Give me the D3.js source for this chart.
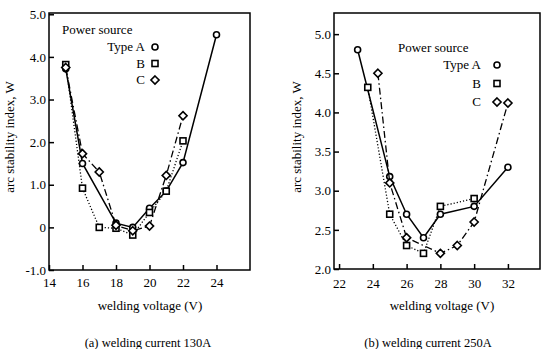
<!DOCTYPE html>
<html>
<head>
<meta charset="utf-8">
<script src="https://cdn.jsdelivr.net/npm/d3@7"></script>
<style>
  body { margin: 0; background: #fff; }
  svg { display: block; font-family: "Liberation Serif", "DejaVu Serif", serif; }
</style>
</head>
<body>
<svg id="chart" width="541" height="349"></svg>
<script>
// (a) welding current 130A
const voltsA130 = [15, 16, 18, 19, 20, 21, 22, 24];
const typeA130 = [3.72, 1.5, 0.1, 0.0, 0.45, 0.85, 1.52, 4.52];
const voltsB130 = [15, 16, 17, 18, 19, 20, 21, 22];
const typeB130 = [3.82, 0.92, 0.0, -0.02, -0.18, 0.35, 0.85, 2.03];
const voltsC130 = [15, 16, 17, 18, 19, 20, 21, 22];
const typeC130 = [3.75, 1.73, 1.3, 0.05, -0.08, 0.03, 1.22, 2.62];
const xTicks130 = [14, 16, 18, 20, 22, 24];
const yTicks130 = [-1, 0, 1, 2, 3, 4, 5];
const yLabels130 = ["-1.0", "0", "1.0", "2.0", "3.0", "4.0", "5.0"];

// (b) welding current 250A
const voltsA250 = [23.1, 25, 26, 27, 28, 30, 32];
const typeA250 = [4.8, 3.18, 2.7, 2.4, 2.7, 2.8, 3.3];
const voltsB250 = [23.7, 25, 26, 27, 28, 30];
const typeB250 = [4.32, 2.7, 2.3, 2.2, 2.8, 2.9];
const voltsC250 = [24.3, 25, 26, 28, 29, 30, 32];
const typeC250 = [4.5, 3.1, 2.4, 2.2, 2.3, 2.6, 4.12];
const xTicks250 = [22, 24, 26, 28, 30, 32];
const yTicks250 = [2, 2.5, 3, 3.5, 4, 4.5, 5];
const yLabels250 = ["2.0", "2.5", "3.0", "3.5", "4.0", "4.5", "5.0"];

const seriesNames = ["Type A", "B", "C"];

const svg = d3.select("#chart");

const lineStyles = [
  { dash: null, width: 1.5 },
  { dash: "1.2,2", width: 1.3 },
  { dash: "7,3,1.5,3", width: 1.3 }
];

function marker(g, kind, cx, cy) {
  if (kind === 0) {
    g.append("circle").attr("cx", cx).attr("cy", cy).attr("r", 3)
      .attr("fill", "#fff").attr("stroke", "#000").attr("stroke-width", 1.6);
  } else if (kind === 1) {
    g.append("rect").attr("x", cx - 3).attr("y", cy - 3).attr("width", 6).attr("height", 6)
      .attr("fill", "#fff").attr("stroke", "#000").attr("stroke-width", 1.6);
  } else {
    g.append("path").attr("d", d3.symbol(d3.symbolDiamond2, 42)())
      .attr("transform", `translate(${cx},${cy})`)
      .attr("fill", "#fff").attr("stroke", "#000").attr("stroke-width", 1.6);
  }
}

function drawPanel(p) {
  const x = d3.scaleLinear().domain(p.xDomain).range([p.left, p.right]);
  const y = d3.scaleLinear().domain(p.yDomain).range([p.bottom, p.top]);
  const g = svg.append("g");

  // frame
  g.append("rect")
    .attr("x", p.left).attr("y", p.top)
    .attr("width", p.right - p.left).attr("height", p.bottom - p.top)
    .attr("fill", "none").attr("stroke", "#000").attr("stroke-width", 1.5);

  // axes with inward ticks
  const xAxis = g.append("g")
    .attr("transform", `translate(0,${p.bottom})`)
    .call(d3.axisBottom(x).tickValues(p.xTicks).tickSizeInner(-5).tickSizeOuter(0).tickPadding(p.xPad));
  const yAxis = g.append("g")
    .attr("transform", `translate(${p.left},0)`)
    .call(d3.axisLeft(y).tickValues(p.yTicks).tickFormat((d, i) => p.yLabels[i])
      .tickSizeInner(-5).tickSizeOuter(0).tickPadding(3));
  [xAxis, yAxis].forEach(a => {
    a.select(".domain").remove();
    a.selectAll("line").attr("stroke", "#000").attr("stroke-width", 1.5);
    a.selectAll("text").attr("font-family", "Liberation Serif").attr("font-size", 13).attr("fill", "#000");
  });

  // series
  const line = d3.line().x(d => x(d[0])).y(d => y(d[1]));
  p.series.forEach((s, k) => {
    const pts = s.volts.map((v, i) => [v, s.values[i]]);
    g.append("path").datum(pts).attr("d", line)
      .attr("fill", "none").attr("stroke", "#000")
      .attr("stroke-width", lineStyles[k].width)
      .attr("stroke-dasharray", lineStyles[k].dash);
    pts.forEach(d => marker(g, k, x(d[0]), y(d[1])));
  });

  // legend
  g.append("text").attr("x", p.legend.x).attr("y", p.legend.y)
    .attr("font-size", 13).text("Power source");
  seriesNames.forEach((n, k) => {
    const ly = p.legend.y + 17 + k * p.legend.step;
    g.append("text").attr("x", p.legend.textRight).attr("y", ly)
      .attr("text-anchor", "end").attr("font-size", 13).text(n);
    marker(g, k, p.legend.markX, ly - 4);
  });

  // axis titles and caption
  g.append("text")
    .attr("transform", `translate(${p.yTitleX},${p.yTitleY}) rotate(-90)`)
    .attr("text-anchor", "middle").attr("font-size", 13).text("arc stability index,  W");
  g.append("text").attr("x", p.xTitleX).attr("y", 310)
    .attr("text-anchor", "middle").attr("font-size", 13).text("welding voltage  (V)");
  g.append("text").attr("x", p.captionX).attr("y", 347)
    .attr("text-anchor", "middle").attr("font-size", 12.5).text(p.caption);
}

drawPanel({
  left: 49, right: 250, top: 13, bottom: 270,
  xDomain: [14, 26], yDomain: [-1, 5.03], xPad: 8,
  xTicks: xTicks130, yTicks: yTicks130, yLabels: yLabels130,
  series: [
    { volts: voltsA130, values: typeA130 },
    { volts: voltsB130, values: typeB130 },
    { volts: voltsC130, values: typeC130 }
  ],
  legend: { x: 62, y: 34, step: 16.5, textRight: 145, markX: 155 },
  yTitleX: 14, yTitleY: 137, xTitleX: 150, captionX: 148,
  caption: "(a) welding current 130A"
});

drawPanel({
  left: 334, right: 540, top: 13, bottom: 269, xPad: 10,
  xDomain: [21.7, 33.9], yDomain: [2, 5.27],
  xTicks: xTicks250, yTicks: yTicks250, yLabels: yLabels250,
  series: [
    { volts: voltsA250, values: typeA250 },
    { volts: voltsB250, values: typeB250 },
    { volts: voltsC250, values: typeC250 }
  ],
  legend: { x: 398, y: 52, step: 18.5, textRight: 481, markX: 497 },
  yTitleX: 301, yTitleY: 137, xTitleX: 442, captionX: 428,
  caption: "(b) welding current 250A"
});
</script>
</body>
</html>
